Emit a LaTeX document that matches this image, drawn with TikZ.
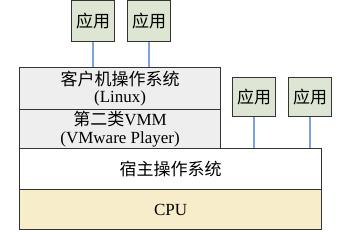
\documentclass[tikz,border=0pt]{standalone}
\usepackage{fontspec}
\setmainfont{Liberation Serif}
\newfontfamily\cjk{Noto Sans CJK SC}
\definecolor{grisCapa}{HTML}{EEEEEE}
\definecolor{verdeApp}{HTML}{DCE6D2}
\definecolor{amarilloCPU}{HTML}{F7EDCB}
\definecolor{azulLinea}{HTML}{7DA2DC}
\definecolor{borde}{HTML}{333333}

\begin{document}
\begin{tikzpicture}[
    x=1pt, y=-1pt,
    % capas de la pila
    capa/.style={draw=borde, line width=1.2pt, anchor=north west, align=center, inner sep=0pt, font=\fontsize{17}{17.5}\selectfont},
    % cajas de aplicaciones
    app/.style={draw=borde, fill=verdeApp, line width=1.2pt, anchor=north west, minimum width=43pt, minimum height=41pt, inner sep=0pt, font=\fontsize{17}{17.5}\selectfont\cjk},
    linea/.style={color=azulLinea, line width=1.3pt}
]
    \useasboundingbox (0,0) rectangle (337,232);

    % --- CAPAS ---
    \node[capa, fill=grisCapa, minimum width=201pt, minimum height=42pt] (guest) at (19,67)
        {{\cjk 客户机操作系统}\\(Linux)};
    \node[capa, fill=grisCapa, minimum width=201pt, minimum height=39pt] (vmm) at (19,109)
        {{\cjk 第二类}VMM\\(VMware Player)};
    \node[capa, fill=white, minimum width=302pt, minimum height=41pt] (host) at (19,148)
        {\cjk 宿主操作系统};
    \node[capa, fill=amarilloCPU, minimum width=302pt, minimum height=40pt] (cpu) at (19,189)
        {CPU};

    % --- APLICACIONES ---
    \node[app] (app1) at (71,0)   {应用};
    \node[app] (app2) at (127,0)  {应用};
    \node[app, minimum height=39pt] (app3) at (232,77)  {应用};
    \node[app, minimum height=39pt] (app4) at (288,77)  {应用};

    % --- CONEXIONES ---
    \draw[linea] (app1.south) -- (app1.south |- guest.north);
    \draw[linea] (app2.south) -- (app2.south |- guest.north);
    \draw[linea] (app3.south) -- (app3.south |- host.north);
    \draw[linea] (app4.south) -- (app4.south |- host.north);

\end{tikzpicture}
\end{document}
